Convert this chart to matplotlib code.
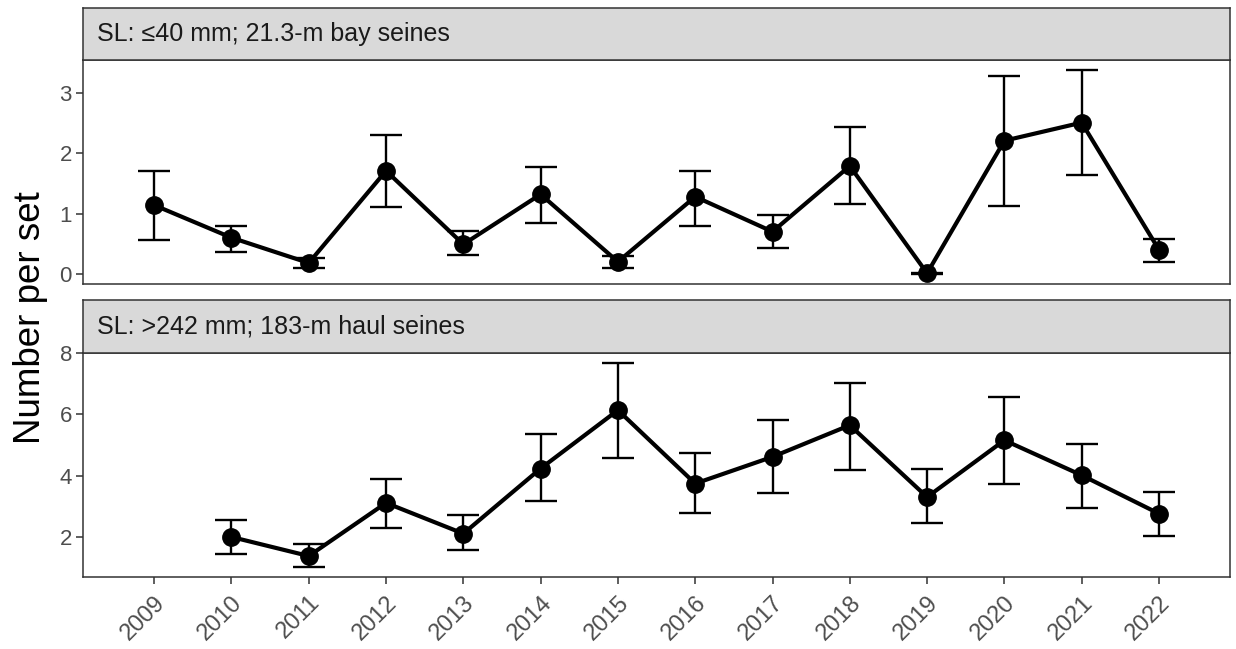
import matplotlib
matplotlib.use("Agg")
import matplotlib.pyplot as plt
import matplotlib.transforms as mtransforms
import numpy as np

plt.rcParams["font.family"] = ["Liberation Sans", "DejaVu Sans"]

# data
years = list(range(2009, 2023))

small_mean = [1.14, 0.60, 0.18, 1.71, 0.49, 1.32, 0.20, 1.28, 0.70, 1.79, 0.01, 2.21, 2.51, 0.40]
small_low = [0.56, 0.36, 0.09, 1.11, 0.32, 0.84, 0.10, 0.80, 0.43, 1.16, 0.00, 1.12, 1.64, 0.20]
small_high = [1.71, 0.80, 0.27, 2.30, 0.71, 1.78, 0.30, 1.71, 0.98, 2.43, 0.02, 3.29, 3.38, 0.58]

large_years = list(range(2010, 2023))
large_mean = [2.00, 1.38, 3.11, 2.11, 4.23, 6.13, 3.74, 4.61, 5.64, 3.30, 5.15, 4.01, 2.76]
large_low = [1.46, 1.02, 2.29, 1.57, 3.16, 4.57, 2.78, 3.43, 4.17, 2.47, 3.71, 2.96, 2.02]
large_high = [2.54, 1.78, 3.88, 2.71, 5.34, 7.67, 4.72, 5.80, 7.03, 4.21, 6.56, 5.02, 3.47]

strip_labels = ["SL: \u226440 mm; 21.3-m bay seines", "SL: >242 mm; 183-m haul seines"]

fig = plt.figure(figsize=(12.36, 6.49), dpi=100)

left, width = 0.0672, 0.928
panels = [
    # (axes rect, strip rect)
    ((left, 0.5624, width, 0.3451), (left, 0.9076, width, 0.0801)),
    ((left, 0.1105, width, 0.3461), (left, 0.4565, width, 0.0812)),
]
series = [
    (years, small_mean, small_low, small_high, [0, 1, 2, 3]),
    (large_years, large_mean, large_low, large_high, [2, 4, 6, 8]),
]

border = "#333333"
axes = []
for (rect, srect), (xs, m, lo, hi, yt), lab in zip(panels, series, strip_labels):
    ax = fig.add_axes(rect)
    m = np.array(m)
    yerr = [m - np.array(lo), np.array(hi) - m]
    ax.errorbar(xs, m, yerr=yerr, fmt="none", ecolor="black", elinewidth=1.7,
                capsize=11.4, capthick=1.7, zorder=2)
    ax.plot(xs, m, color="black", linewidth=3.0, marker="o", markersize=12.5, zorder=3)

    lo_all = min(min(lo), min(m))
    hi_all = max(max(hi), max(m))
    pad = (hi_all - lo_all) * 0.05
    ax.set_ylim(lo_all - pad, hi_all + pad)
    ax.set_xlim(2008.08, 2022.92)
    ax.set_yticks(yt)
    ax.set_xticks(years)
    for s in ax.spines.values():
        s.set_color(border)
        s.set_linewidth(1.1)
    ax.tick_params(axis="both", length=5, width=1.1, color=border,
                   labelsize=16, labelcolor="#4D4D4D", pad=3)

    sax = fig.add_axes(srect)
    sax.set_facecolor("#D9D9D9")
    sax.set_xticks([])
    sax.set_yticks([])
    for s in sax.spines.values():
        s.set_color(border)
        s.set_linewidth(1.1)
    sax.text(0.012, 0.5, lab, transform=sax.transAxes, ha="left", va="center",
             fontsize=18, color="#1A1A1A")
    axes.append(ax)

axes[0].tick_params(axis="x", bottom=False, labelbottom=False)
axes[1].set_xticklabels([str(y) for y in years], rotation=45, ha="right",
                        rotation_mode="anchor", fontsize=17)
# nudge rotated year labels so their top-right corner sits under the tick
shift = mtransforms.ScaledTranslation(0 / 100, -3 / 100, fig.dpi_scale_trans)
for t in axes[1].get_xticklabels():
    t.set_transform(t.get_transform() + shift)

fig.text(0.025, 0.51, "Number per set", rotation=90, ha="center", va="center",
         fontsize=26.5, color="black")

fig.savefig("out.png", dpi=100)
